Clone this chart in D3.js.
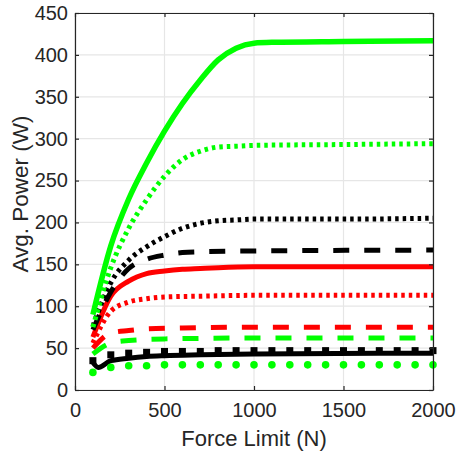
<!DOCTYPE html>
<html><head><meta charset="utf-8">
<script src="https://cdn.jsdelivr.net/npm/d3@7"></script>
<style>body{margin:0;background:#fff}svg text{font-family:"Liberation Sans",Arial,sans-serif;fill:#262626}</style>
</head><body><svg id="c" width="458" height="456"></svg>
<script>
const xTicks=[0,500,1000,1500,2000];
const yTicks=[0,50,100,150,200,250,300,350,400,450];
const greenSolid=[[100,90],[200,172],[300,228],[400,271],[500,309],[600,342],[700,370],[800,394],[900,408],[1000,414],[1100,415],[1500,416],[2000,417]];
const greenDotted=[[100,75],[200,146],[300,193],[400,227],[500,255],[600,275],[700,285],[800,290],[900,291],[1000,292],[1500,293],[2000,294]];
const blackDotted=[[100,76],[200,128],[300,155],[400,171],[500,183],[600,193],[700,199],[800,202],[900,203],[1000,204],[1500,204],[2000,205]];
const blackDashed=[[100,72],[200,117],[300,145],[400,156],[500,161],[600,164],[700,165],[1000,166],[2000,167]];
const redSolid=[[100,63],[200,112],[300,130],[400,139],[500,142],[600,144],[700,145],[800,146],[1000,147],[2000,147]];
const redDotted=[[100,56],[200,94],[300,105],[400,109],[500,111],[700,112],[1000,113],[2000,113]];
const redDashed=[[100,50],[200,68],[300,71],[400,73],[600,74],[1000,75],[2000,75]];
const greenDashed=[[100,43],[200,56],[300,59],[500,61],[1000,62],[2000,62]];
const blackSolid=[[100,33],[130,27],[200,35],[300,38],[400,40],[500,41],[700,42],[1000,43],[2000,44]];
const blackSquares=[[100,35],[200,42],[300,44],[400,45],[500,46],[600,46],[700,46],[800,47],[900,47],[1000,47],[1100,47],[1200,47],[1300,47],[1400,47],[1500,47],[1600,47],[1700,47],[1800,47],[1900,47],[2000,47]];
const greenCircles=[[100,21],[200,27],[300,29],[400,29],[500,30],[600,30],[700,30],[800,30],[900,30],[1000,30],[1100,30],[1200,30],[1300,30],[1400,30],[1500,30],[1600,30],[1700,30],[1800,30],[1900,30],[2000,30]];

const svg=d3.select("#c");
const L=75,R=433,T=13,B=390;
const x=d3.scaleLinear().domain([0,2000]).range([L,R]);
const y=d3.scaleLinear().domain([0,450]).range([B,T]);
const axc="#262626";
const g=svg.append("g");
g.selectAll(".gx").data(xTicks).join("line").attr("x1",d=>x(d)).attr("x2",d=>x(d)).attr("y1",T).attr("y2",B).attr("stroke","#e6e6e6").attr("stroke-width",1.2);
g.selectAll(".gy").data(yTicks).join("line").attr("x1",L).attr("x2",R).attr("y1",d=>y(d)).attr("y2",d=>y(d)).attr("stroke","#e6e6e6").attr("stroke-width",1.2);

const line=d3.line().x(d=>x(d[0])).y(d=>y(d[1])).curve(d3.curveMonotoneX);
const plot=svg.append("g");
function draw(data,color,dash,w){
  plot.append("path").datum(data).attr("d",line).attr("fill","none").attr("stroke",color)
   .attr("stroke-width",w).attr("stroke-dasharray",dash).attr("stroke-linejoin","round");
}
draw(greenDashed,"#00ff00","16,15",5);
draw(redDashed,"#ff0000","16,15",5);
draw(redDotted,"#ff0000","3.5,4",5);
draw(redSolid,"#ff0000",null,5);
draw(blackDashed,"#000","16,15",5);
draw(blackDotted,"#000","3.5,4",5);
draw(greenDotted,"#00ff00","3.5,4",5);
draw(greenSolid,"#00ff00",null,5.5);
draw(blackSolid,"#000",null,5);
plot.selectAll(".sq").data(blackSquares).join("rect").attr("x",d=>x(d[0])-3.5).attr("y",d=>y(d[1])-3.5).attr("width",7).attr("height",7).attr("fill","#000");
plot.selectAll(".ci").data(greenCircles).join("circle").attr("cx",d=>x(d[0])).attr("cy",d=>y(d[1])).attr("r",3.8).attr("fill","#00ff00");

const fmt=d3.format("d");
const ax=svg.append("g").attr("transform",`translate(0,${B})`).call(d3.axisBottom(x).tickValues(xTicks).tickFormat(fmt).tickSizeInner(-4).tickSizeOuter(0).tickPadding(13));
const ay=svg.append("g").attr("transform",`translate(${L},0)`).call(d3.axisLeft(y).tickValues(yTicks).tickFormat(fmt).tickSizeInner(-4).tickSizeOuter(0).tickPadding(7));
const at=svg.append("g").attr("transform",`translate(0,${T})`).call(d3.axisTop(x).tickValues(xTicks).tickSizeInner(-4).tickSizeOuter(0).tickFormat(""));
const ar=svg.append("g").attr("transform",`translate(${R},0)`).call(d3.axisRight(y).tickValues(yTicks).tickSizeInner(-4).tickSizeOuter(0).tickFormat(""));
[ax,ay,at,ar].forEach(a=>{a.selectAll("path,line").attr("stroke",axc).attr("stroke-width",1.2);a.selectAll("text").style("font-size","20px").attr("fill",axc);});
svg.append("text").attr("x",254).attr("y",446).attr("text-anchor","middle").style("font-size","22px").text("Force Limit (N)");
svg.append("text").attr("transform","translate(28,194) rotate(-90)").attr("text-anchor","middle").style("font-size","22.5px").text("Avg. Power (W)");
</script></body></html>
